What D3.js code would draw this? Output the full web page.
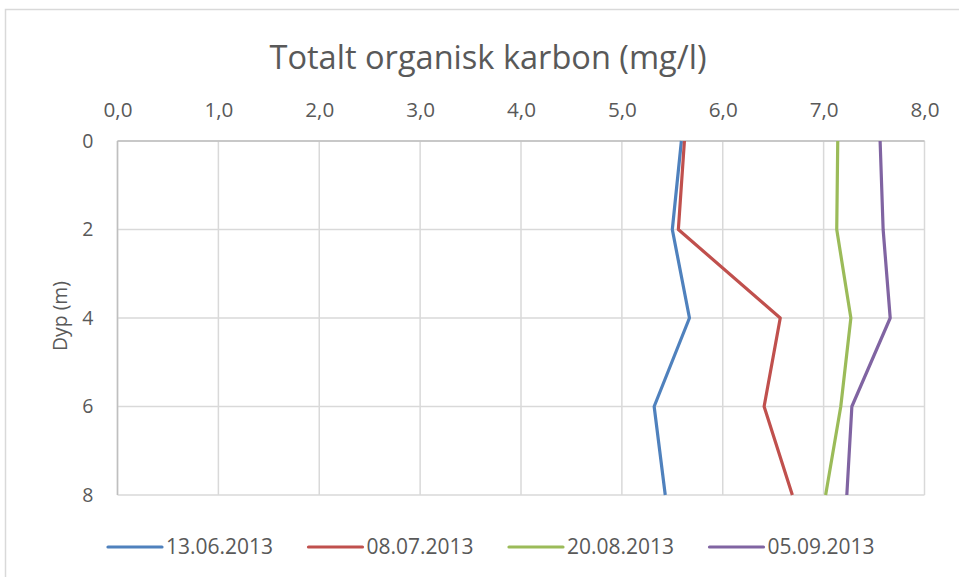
<!DOCTYPE html>
<html><head><meta charset="utf-8">
<script src="https://cdn.jsdelivr.net/npm/d3@7"></script>
<style>
body{margin:0;background:#fff;}
text{font-family:"Open Sans","Noto Sans",sans-serif;fill:#595959;}
</style></head>
<body><svg id="c" width="959" height="577"></svg>
<script>
const depths = [0, 2, 4, 6, 8];
const seriesNames = ["13.06.2013", "08.07.2013", "20.08.2013", "05.09.2013"];
const s1 = [5.59, 5.50, 5.67, 5.32, 5.43];
const s2 = [5.62, 5.56, 6.57, 6.41, 6.69];
const s3 = [7.14, 7.13, 7.27, 7.17, 7.02];
const s4 = [7.56, 7.59, 7.66, 7.28, 7.23];
const colors = ["#4F81BD", "#C0504D", "#9BBB59", "#8064A2"];
const xTicks = [0, 1, 2, 3, 4, 5, 6, 7, 8];
const yTicks = [0, 2, 4, 6, 8];
const title = "Totalt organisk karbon (mg/l)";
const yTitle = "Dyp (m)";

const svg = d3.select("#c");
svg.append("rect").attr("x",5.5).attr("y",9.5).attr("width",1000).attr("height",600)
  .attr("fill","#fff").attr("stroke","#d9d9d9").attr("stroke-width",1.5);

const L=117.5, R=924.5, T=141, B=495;
const x = d3.scaleLinear().domain([0,8]).range([L,R]);
const y = d3.scaleLinear().domain([0,8]).range([T,B]);

// grid
const g = svg.append("g");
g.selectAll("line.v").data(xTicks).join("line")
  .attr("x1",d=>x(d)).attr("x2",d=>x(d)).attr("y1",T).attr("y2",B)
  .attr("stroke","#d9d9d9").attr("stroke-width",1.5);
g.selectAll("line.h").data(yTicks).join("line")
  .attr("x1",L).attr("x2",R).attr("y1",d=>y(d)).attr("y2",d=>y(d))
  .attr("stroke","#d9d9d9").attr("stroke-width",1.5);
// axis lines
svg.append("line").attr("x1",L).attr("x2",R).attr("y1",T).attr("y2",T).attr("stroke","#bfbfbf").attr("stroke-width",1.5);
svg.append("line").attr("x1",L).attr("x2",L).attr("y1",T).attr("y2",B).attr("stroke","#bfbfbf").attr("stroke-width",1.5);

// x axis at top
const fmt = d => d3.format(".1f")(d).replace(".", ",");
const xAxis = d3.axisTop(x).tickValues(xTicks).tickFormat(fmt).tickSize(0).tickPadding(0);
const xa = svg.append("g").attr("transform",`translate(0,${T})`).call(xAxis);
xa.select(".domain").remove();
xa.selectAll("text").attr("y",-24).attr("font-size",19.5).attr("textLength",29).attr("lengthAdjust","spacingAndGlyphs")
  .style("font-family","'Open Sans',sans-serif").attr("fill","#595959");

const yAxis = d3.axisLeft(y).tickValues(yTicks).tickFormat(d3.format("d")).tickSize(0).tickPadding(0);
const ya = svg.append("g").attr("transform",`translate(${L},0)`).call(yAxis);
ya.select(".domain").remove();
ya.selectAll("text").attr("x",-24).attr("font-size",19.5).style("font-family","'Open Sans',sans-serif").attr("fill","#595959");

// title
svg.append("text").attr("x",488).attr("y",69).attr("text-anchor","middle")
  .attr("font-size",32).attr("textLength",437).attr("lengthAdjust","spacingAndGlyphs").text(title);
svg.append("text").attr("transform","translate(67,316) rotate(-90)").attr("text-anchor","middle")
  .attr("font-size",20.5).attr("textLength",70).attr("lengthAdjust","spacingAndGlyphs").text(yTitle);

// lines
const all = [s1,s2,s3,s4];
const line = d3.line().x(d=>x(d.v)).y(d=>y(d.d));
all.forEach((s,i)=>{
  svg.append("path").datum(s.map((v,j)=>({v, d:depths[j]})))
    .attr("d",line).attr("fill","none").attr("stroke",colors[i]).attr("stroke-width",3.2)
    .attr("stroke-linejoin","round");
});

// legend
const lg = svg.append("g");
seriesNames.forEach((n,i)=>{
  const x0 = 108 + i*200.5;
  lg.append("line").attr("x1",x0).attr("x2",x0+54).attr("y1",547).attr("y2",547)
    .attr("stroke",colors[i]).attr("stroke-width",3.2).attr("stroke-linecap","round");
  lg.append("text").attr("x",x0+58).attr("y",554).attr("font-size",21)
    .attr("textLength",107).attr("lengthAdjust","spacingAndGlyphs").text(n);
});
</script></body></html>
